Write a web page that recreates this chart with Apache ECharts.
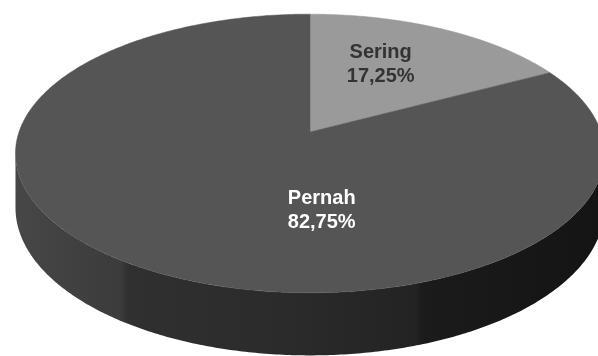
<!DOCTYPE html>
<html>
<head>
<meta charset="utf-8">
<script src="https://cdn.jsdelivr.net/npm/echarts@6/dist/echarts.min.js"></script>
<style>
  html, body { margin: 0; padding: 0; background: #fff; }
  #chart { width: 598px; height: 356px; }
</style>
</head>
<body>
<div id="chart"></div>
<script>
// Frekuensi: share of respondents per category
const categories = ['Sering', 'Pernah'];
const values = [17.25, 82.75];

// Slice styling (top face colour, label colour)
const topColors = ['#9a9a9a', '#555555'];
const labelColors = ['#333333', '#ffffff'];

// Perspective disc layout: centre of the pie, horizontal/vertical radius,
// perspective factor and wall thickness.
const disc = { cx: 310, cy: 132, a: 291, b: 136, k: 0.154, depth: 53 };
// Where each label sits inside its slice (angle in degrees clockwise from 12 o'clock, radius fraction)
const labelAnchor = [{ ang: 26, r: 0.6 }, { ang: 176, r: 0.53 }];

function proj(theta, r, drop) {
  const u = r * Math.sin(theta);
  const v = -r * Math.cos(theta);
  const w = 1 - disc.k * v;
  return [disc.cx + disc.a * u / w, disc.cy + disc.b * v / w + drop * disc.depth / w];
}

function arcPoints(t0, t1, drop) {
  const pts = [];
  const n = Math.max(2, Math.ceil(Math.abs(t1 - t0) / 0.01));
  for (let i = 0; i <= n; i++) {
    const t = t0 + (t1 - t0) * i / n;
    pts.push(proj(t, 1, drop));
  }
  return pts;
}

const total = values.reduce((s, v) => s + v, 0);
const starts = [];
let acc = 0;
values.forEach(v => { starts.push(acc); acc += v; });

// Visible wall spans the near half, between the two silhouette angles
const silR = Math.PI - Math.acos(disc.k);
const silL = Math.PI + Math.acos(disc.k);

const sideGradient = new echarts.graphic.LinearGradient(0, 0, 1, 0, [
  { offset: 0, color: '#474747' },
  { offset: 0.18, color: '#3b3b3b' },
  { offset: 0.19, color: '#303030' },
  { offset: 0.46, color: '#2b2b2b' },
  { offset: 0.68, color: '#232323' },
  { offset: 0.69, color: '#1b1b1b' },
  { offset: 1, color: '#141414' }
]);

function fmt(v) {
  return (v / total * 100).toFixed(2).replace('.', ',') + '%';
}

const chart = echarts.init(document.getElementById('chart'), null, { renderer: 'canvas' });
chart.setOption({
  backgroundColor: '#ffffff',
  animation: false,
  series: [{
    type: 'custom',
    coordinateSystem: 'none',
    data: values.map((v, i) => ({ name: categories[i], value: v })),
    renderItem: function (params, api) {
      const i = params.dataIndex;
      const t0 = starts[i] / total * 2 * Math.PI;
      const t1 = (starts[i] + values[i]) / total * 2 * Math.PI;
      const children = [];

      // outer wall
      const s0 = Math.max(t0, silR), s1 = Math.min(t1, silL);
      if (s1 > s0) {
        const topArc = arcPoints(s0, s1, 0);
        const botArc = arcPoints(s1, s0, 1);
        children.push({
          type: 'polygon',
          z2: 1,
          shape: { points: topArc.concat(botArc) },
          style: { fill: sideGradient, stroke: null }
        });
      }

      // top face
      const face = [[disc.cx, disc.cy]].concat(arcPoints(t0, t1, 0));
      children.push({
        type: 'polygon',
        z2: 2,
        shape: { points: face },
        style: { fill: topColors[i], stroke: topColors[i], lineWidth: 0.5 }
      });

      // label
      const la = labelAnchor[i];
      const p = proj(la.ang * Math.PI / 180, la.r, 0);
      children.push({
        type: 'text',
        z2: 3,
        x: p[0],
        y: p[1],
        style: {
          text: categories[i] + '\n' + fmt(values[i]),
          fill: labelColors[i],
          font: 'bold 20px "Liberation Sans", Arial, sans-serif',
          lineHeight: 24,
          align: 'center',
          verticalAlign: 'middle'
        }
      });

      return { type: 'group', children: children };
    }
  }]
});
</script>
</body>
</html>
